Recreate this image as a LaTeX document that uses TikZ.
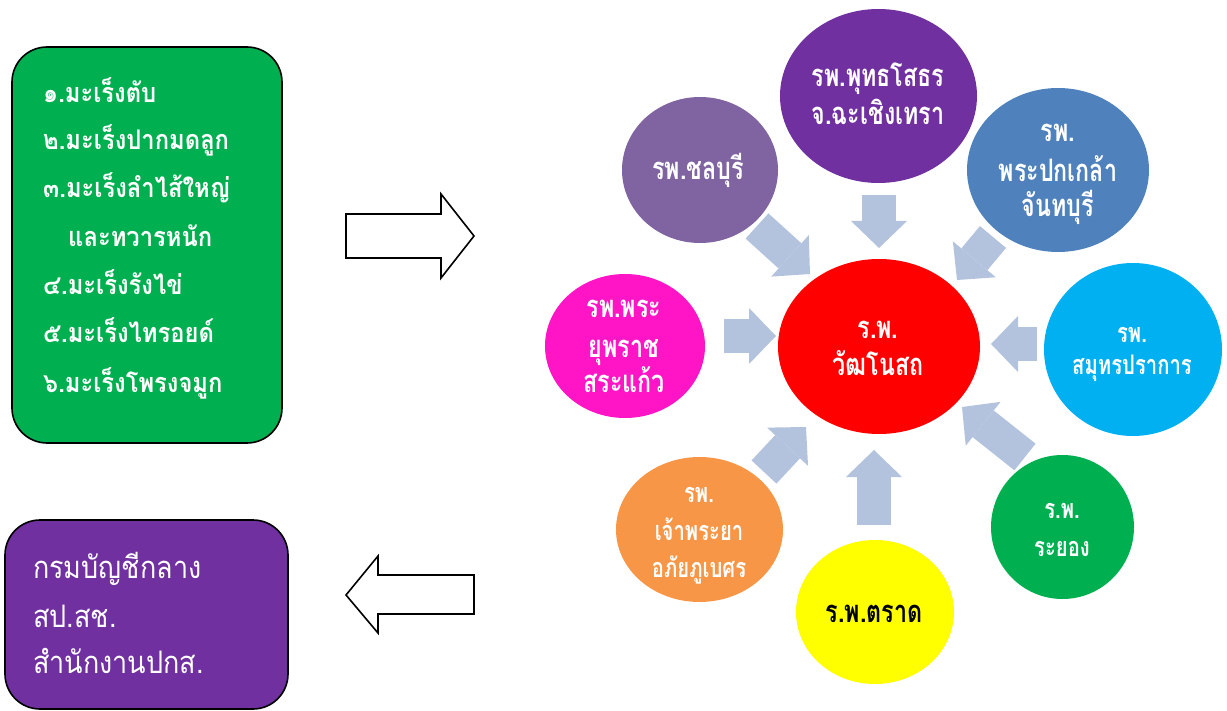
\documentclass[tikz,border=0pt]{standalone}
\usepackage{fontspec}
\newfontfamily\thaicirc[Script=Thai,FakeStretch=0.75]{Loma}
\newfontfamily\thailist[Script=Thai,FakeStretch=0.88]{Loma}
\newfontfamily\thaiagency[Script=Thai,FakeStretch=0.87]{Loma}
\usetikzlibrary{arrows.meta,shapes.geometric}
\definecolor{boxgreen}{HTML}{00B050}
\definecolor{boxpurple}{HTML}{7030A0}
\definecolor{cred}{HTML}{FF0000}
\definecolor{cpurple}{HTML}{7030A0}
\definecolor{cblue}{HTML}{4F81BD}
\definecolor{cmauve}{HTML}{8064A2}
\definecolor{cpink}{HTML}{FF15C6}
\definecolor{ccyan}{HTML}{00B0F0}
\definecolor{corange}{HTML}{F79646}
\definecolor{cyellow}{HTML}{FFFF00}
\definecolor{cgreen}{HTML}{00B050}
\definecolor{arrowblue}{HTML}{B3C3DE}
\begin{document}
\begin{tikzpicture}[x=1pt,y=-1pt,
  hosp/.style={ellipse, draw=none, inner sep=0pt},
  bigtxt/.style={font=\thaicirc\bfseries\fontsize{31}{36}\selectfont, text=white, anchor=base, inner sep=0pt},
  smalltxt/.style={font=\thaicirc\bfseries\fontsize{27}{32}\selectfont, text=white, anchor=base, inner sep=0pt},
  listtxt/.style={font=\thailist\bfseries\fontsize{27}{32}\selectfont, text=white, anchor=base west, inner sep=0pt},
  agencytxt/.style={font=\thaiagency\fontsize{31}{36}\selectfont, text=white, anchor=base west, inner sep=0pt},
  flow/.style={draw=arrowblue, line width=34pt, -{Triangle[length=27pt,width=56pt,line width=0pt,fill=arrowblue]}},
  outlinearrow/.style={draw=black, line width=1.6pt, fill=white, line join=miter},
  roundbox/.style={draw=black, line width=1.6pt, rounded corners=35pt},
]
\useasboundingbox (0,0) rectangle (1227,711);

% left boxes
\draw[roundbox, fill=boxgreen] (12,47) rectangle (282,443);
\node[listtxt] (g1) at (43,103) {๑.มะเร็งตับ};
\node[listtxt] (g2) at (43,150) {๒.มะเร็งปากมดลูก};
\node[listtxt] (g3) at (43,198) {๓.มะเร็งลำไส้ใหญ่};
\node[listtxt] (g4) at (68,247) {และทวารหนัก};
\node[listtxt] (g5) at (43,295) {๔.มะเร็งรังไข่};
\node[listtxt] (g6) at (43,343) {๕.มะเร็งไทรอยด์};
\node[listtxt] (g7) at (43,392) {๖.มะเร็งโพรงจมูก};

\draw[roundbox, fill=boxpurple] (5,520) rectangle (288,709);
\node[agencytxt] (p1) at (33,578) {กรมบัญชีกลาง};
\node[agencytxt] (p2) at (33,627) {สป.สช.};
\node[agencytxt] (p3) at (33,673) {สำนักงานปกส.};

% outline arrows
\draw[outlinearrow] (346,214) -- (441,214) -- (441,194) -- (474,236) -- (441,278) -- (441,258) -- (346,258) -- cycle;
\draw[outlinearrow] (346,595) -- (378,556) -- (378,575) -- (474,575) -- (474,614) -- (378,614) -- (378,633) -- cycle;

% hospitals
\node[hosp, fill=cred, minimum width=202pt, minimum height=175pt] (red) at (879,346.5) {};
\node[hosp, fill=cpurple, minimum width=197pt, minimum height=174pt] (buddha) at (878.5,96) {};
\node[hosp, fill=cblue, minimum width=182pt, minimum height=164pt] (pokklao) at (1058,170) {};
\node[hosp, fill=cmauve, minimum width=156pt, minimum height=146pt] (chon) at (700,170) {};
\node[hosp, fill=cpink, minimum width=160pt, minimum height=144pt] (sakaeo) at (625,346) {};
\node[hosp, fill=ccyan, minimum width=178pt, minimum height=173pt] (samut) at (1133,349.5) {};
\node[hosp, fill=corange, minimum width=167pt, minimum height=145pt] (abhai) at (699.5,529.5) {};
\node[hosp, fill=cyellow, minimum width=158pt, minimum height=144pt] (trat) at (875,612) {};
\node[hosp, fill=cgreen, minimum width=143pt, minimum height=144pt] (rayong) at (1062.5,527) {};

% texts
\node[bigtxt] (tred1) at (878,339) {ร.พ.};
\node[bigtxt] (tred2) at (878,376) {วัฒโนสถ};
\node[bigtxt] (tbud1) at (878,87) {รพ.พุทธโสธร};
\node[bigtxt] (tbud2) at (878,125) {จ.ฉะเชิงเทรา};
\node[bigtxt] (tpok1) at (1058,142) {รพ.};
\node[bigtxt] (tpok2) at (1058,182) {พระปกเกล้า};
\node[bigtxt] (tpok3) at (1058,217) {จันทบุรี};
\node[bigtxt] (tchon) at (698,180) {รพ.ชลบุรี};
\node[bigtxt] (tsak1) at (624,318) {รพ.พระ};
\node[bigtxt] (tsak2) at (624,358) {ยุพราช};
\node[bigtxt] (tsak3) at (624,393) {สระแก้ว};
\node[smalltxt] (tsam1) at (1132,343) {รพ.};
\node[smalltxt] (tsam2) at (1132,375) {สมุทรปราการ};
\node[smalltxt] (tabh1) at (699,502) {รพ.};
\node[smalltxt] (tabh2) at (699,540) {เจ้าพระยา};
\node[smalltxt] (tabh3) at (699,577) {อภัยภูเบศร};
\node[bigtxt, text=black] (ttrat) at (874,622) {ร.พ.ตราด};
\node[smalltxt] (tray1) at (1062,518) {ร.พ.};
\node[smalltxt] (tray2) at (1062,556) {ระยอง};

% flow arrows
\coordinate (a1s) at (879,195);   \coordinate (a1e) at (879,248);
\coordinate (a2s) at (757,226);   \coordinate (a2e) at (810,274);
\coordinate (a3s) at (993,237);   \coordinate (a3e) at (957,280);
\coordinate (a4s) at (724,336);   \coordinate (a4e) at (776,336);
\coordinate (a5s) at (1037,344);  \coordinate (a5e) at (991,344);
\coordinate (a6s) at (764,472);   \coordinate (a6e) at (806,427);
\coordinate (a7s) at (874,525);   \coordinate (a7e) at (874,450);
\coordinate (a8s) at (1025,457);  \coordinate (a8e) at (962,407);
\foreach \i in {1,...,8} {\draw[flow] (a\i s) -- (a\i e);}
\end{tikzpicture}
\end{document}
